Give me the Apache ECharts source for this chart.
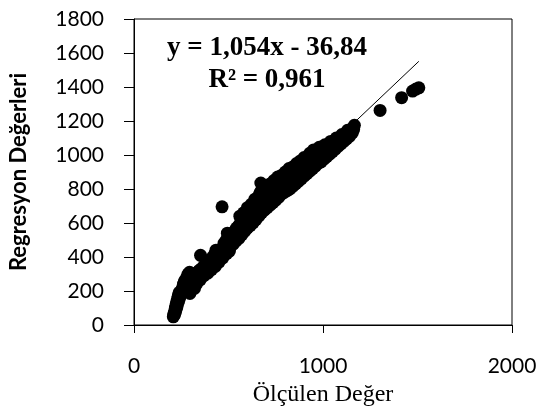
<!DOCTYPE html>
<html><head><meta charset="utf-8">
<script src="https://cdn.jsdelivr.net/npm/echarts@6/dist/echarts.min.js"></script>
<style>html,body{margin:0;padding:0;background:#fff}#c{width:541px;height:412px}</style>
</head><body><div id="c"></div>
<script>
const measured = [
 208,210,213,216,219,222,225,228,231,234,237,240,215,220,226,230,236,242,246,250,255,258,
 262,266,270,274,278,282,286,290,294,296,300,304,308,312,316,320,324,328,332,336,340,344,348,
 352,
 356,362,368,374,380,386,392,398,404,410,416,422,428,434,440,446,452,458,464,470,
 466,
 476,482,488,494,500,506,512,518,524,530,536,542,548,554,560,566,572,578,584,590,596,602,608,614,620,626,632,636,640,
 644,648,652,656,660,664,668,671,672,676,680,684,688,692,696,700,704,708,712,716,720,
 726,732,738,744,750,756,762,768,774,780,786,792,798,804,810,816,822,828,834,840,846,852,858,864,870,876,882,888,894,900,906,912,918,924,930,936,942,948,
 956,964,972,980,988,996,1004,1012,1020,1030,1040,1050,1060,1070,1080,1090,1100,1110,1120,1130,1140,1150,1155,1160,1166,1162,
 1302,1416,1474,1492,1507,
 330,350,370,390,410,430,450,470,490,505,
 480,495,510,525,540,555,570,585,600,615,630,645,660,675,690,705,720,735,750,765,780,795,810,825,840,855,870,885,900,915,930,945,960,975,990,1005,1020,1035,1050,1065,1080,1095,1110,1125,1140,
 560,580,600,620,640,700,720,740,760,780,800,820,840,860,880,900,950,980,1010,1040,1070,1100,1130
];
const regression = [
 48,58,70,85,100,115,128,140,155,168,180,192,62,80,100,120,140,160,178,195,210,225,
 240,255,230,270,250,285,300,270,310,186,200,230,300,250,280,215,300,260,290,310,280,320,300,
 410,
 330,315,345,335,360,350,370,360,385,375,400,390,420,440,405,425,415,440,430,455,
 695,
 480,455,500,540,470,515,490,535,505,550,525,570,540,585,560,610,580,630,595,645,615,665,630,680,645,700,665,720,680,
 730,695,745,710,760,725,780,835,740,795,755,805,770,735,795,765,815,780,750,800,775,
 810,785,825,800,835,810,845,820,855,830,865,840,875,850,880,860,890,870,900,880,910,890,920,900,930,910,940,920,950,930,960,940,970,950,1010,975,965,985,
 975,995,985,970,1005,1000,1020,1030,1035,1045,1050,1060,1065,1075,1085,1090,1100,1110,1115,1125,1135,1145,1130,1160,1175,1150,
 1262,1337,1376,1388,1395,
 240,265,290,305,325,345,370,395,420,435,
 430,445,460,475,495,510,530,550,570,585,600,620,640,660,675,690,705,720,735,750,770,780,790,800,815,830,845,860,875,890,905,920,935,950,960,975,990,1005,1020,1035,1050,1065,1080,1095,1110,
 640,660,690,710,740,820,830,850,870,880,900,920,930,950,965,985,1030,1045,1060,1080,1100,1120,1145
];
// Trendline end points
const trendX = [208, 1507];
const trendY = [182, 1551];
const xTicks = [0, 1000, 2000];
const yTicks = [0, 200, 400, 600, 800, 1000, 1200, 1400, 1600, 1800];
const equationText = 'y = 1,054x - 36,84';
const r2Text = 'R² = 0,961';
const xName = 'Ölçülen Değer';
const yName = 'Regresyon Değerleri';

const pts = measured.map((x, i) => [x, regression[i]]);
const trend = trendX.map((x, i) => [x, trendY[i]]);

const chart = echarts.init(document.getElementById('c'), null, {renderer: 'canvas'});
chart.setOption({
  animation: false,
  backgroundColor: '#fff',
  grid: {left: 132, right: 29, top: 19, bottom: 86, show: true, borderColor: '#000', borderWidth: 1, backgroundColor: 'transparent'},
  xAxis: {
    type: 'value', min: xTicks[0], max: xTicks[xTicks.length - 1], interval: 1000,
    name: xName, nameLocation: 'middle', nameGap: 58,
    nameTextStyle: {fontFamily: 'Liberation Serif', fontSize: 24, color: '#000'},
    axisLine: {show: true, onZero: false, lineStyle: {color: '#000', width: 1}},
    axisTick: {show: true, length: 8, lineStyle: {color: '#000'}},
    axisLabel: {margin: 31, fontFamily: 'Lato', fontSize: 21, color: '#000', formatter: v => String(v)},
    splitLine: {show: false}
  },
  yAxis: {
    type: 'value', min: yTicks[0], max: yTicks[yTicks.length - 1], interval: 200,
    name: yName, nameLocation: 'middle', nameGap: 104,
    nameTextStyle: {fontFamily: 'Lato', fontWeight: 'bold', fontSize: 22, color: '#000'},
    axisLine: {show: true, onZero: false, lineStyle: {color: '#000', width: 1}},
    axisTick: {show: true, length: 10, lineStyle: {color: '#000'}},
    axisLabel: {margin: 30, fontFamily: 'Lato', fontSize: 21, color: '#000', formatter: v => String(v)},
    splitLine: {show: false}
  },
  series: [
    {type: 'scatter', data: pts, symbol: 'circle', symbolSize: 13, itemStyle: {color: '#000', opacity: 1}, z: 2},
    {type: 'line', data: trend, symbol: 'none', lineStyle: {color: '#000', width: 1}, z: 3}
  ],
  graphic: [
    {type: 'text', x: 267, y: 48, style: {text: equationText, font: 'bold 27px "Liberation Serif"', fill: '#000', textAlign: 'center', textVerticalAlign: 'middle'}},
    {type: 'text', x: 267, y: 80, style: {text: r2Text, font: 'bold 27px "Liberation Serif"', fill: '#000', textAlign: 'center', textVerticalAlign: 'middle'}}
  ]
});
</script></body></html>
